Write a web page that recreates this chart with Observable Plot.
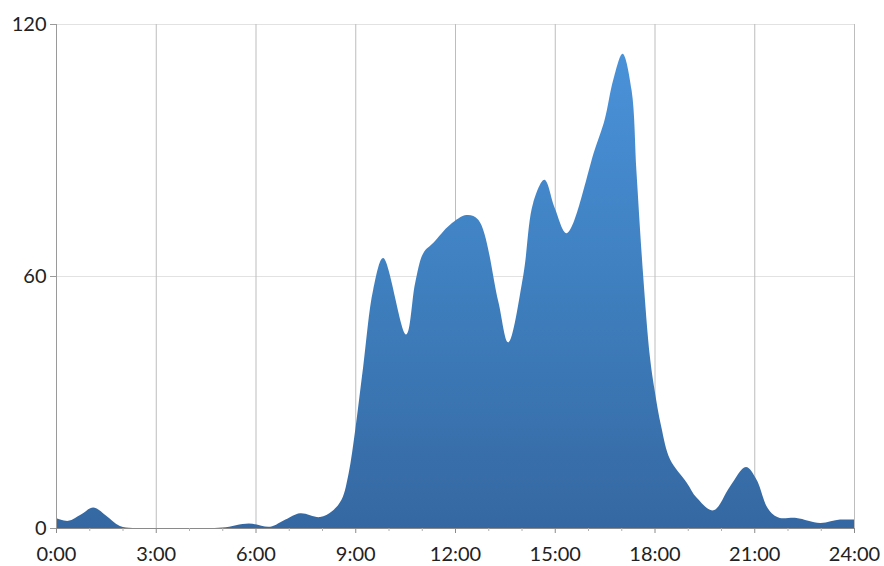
<!DOCTYPE html>
<html>
<head>
<meta charset="utf-8">
<script src="https://cdn.jsdelivr.net/npm/d3@7"></script>
<script src="https://cdn.jsdelivr.net/npm/@observablehq/plot@0.6"></script>
<style>
  body { margin: 0; background: #fff; }
  #chart svg { display: block; }
</style>
</head>
<body>
<div id="chart"></div>
<script>
// time of day (hours)
const hours = [
  0, 0.37, 0.75, 1.12, 1.5, 1.92, 2.3, 3, 4, 5, 5.8, 6.44, 6.9, 7.34, 7.94, 8.3, 8.59,
  8.8, 9.0, 9.24, 9.54, 9.84, 10.53, 10.8, 11.05, 11.35, 11.85, 12.35, 12.7,
  13.3, 13.6, 14.05, 14.35, 14.69, 15.0, 15.36, 16.2, 16.5, 16.76,
  17.04, 17.31, 17.46, 17.66, 17.86, 18.0, 18.2, 18.47, 18.97, 19.27, 19.77, 20.27,
  20.75, 21.07, 21.37, 21.57, 21.77, 22.27, 22.98, 23.58, 24
];
// count
const values = [
  2.4, 1.7, 3.2, 4.9, 3.0, 0.5, 0, 0, 0, 0.1, 1.1, 0.3, 2.0, 3.5, 2.6, 4.0, 6.8,
  13, 23.4, 38.5, 56.8, 64.3, 46.1, 58.3, 65.5, 67.9, 72.2, 74.5, 73.4,
  54, 44.2, 60, 77.4, 82.9, 76.2, 70.2, 90, 97.2, 106.7,
  112.9, 104.3, 84.5, 60, 40.9, 33, 24.2, 16.3, 10.8, 7.2, 4.2, 9.9,
  14.5, 11.5, 5.2, 3.2, 2.4, 2.4, 1.2, 2, 2
];
const xTicks = [0, 3, 6, 9, 12, 15, 18, 21, 24];
const xTickLabels = ["0:00", "3:00", "6:00", "9:00", "12:00", "15:00", "18:00", "21:00", "24:00"];
const xMinorTicks = [1, 2, 4, 5, 7, 8, 10, 11, 13, 14, 16, 17, 19, 20, 22, 23];
const yTicks = [0, 60, 120];

const data = hours.map((h, i) => ({ h, v: values[i] }));

const gradientMark = (index, scales) => {
  const ns = "http://www.w3.org/2000/svg";
  const defs = document.createElementNS(ns, "defs");
  const lg = document.createElementNS(ns, "linearGradient");
  lg.setAttribute("id", "areaGrad");
  lg.setAttribute("gradientUnits", "userSpaceOnUse");
  lg.setAttribute("x1", 0); lg.setAttribute("x2", 0);
  lg.setAttribute("y1", scales.y(120)); lg.setAttribute("y2", scales.y(0));
  [["0%", "#4b94dc"], ["50%", "#3f80c0"], ["100%", "#3568a2"]].forEach(([o, c]) => {
    const s = document.createElementNS(ns, "stop");
    s.setAttribute("offset", o); s.setAttribute("stop-color", c);
    lg.appendChild(s);
  });
  defs.appendChild(lg);
  return defs;
};

const chart = Plot.plot({
  width: 884,
  height: 566,
  marginLeft: 56,
  marginRight: 30,
  marginTop: 24,
  marginBottom: 38,
  style: { fontFamily: "Lato, 'Open Sans', sans-serif", fontSize: "20px", color: "#222", background: "#fff" },
  x: { domain: [0, 24] },
  y: { domain: [0, 120] },
  marks: [
    gradientMark,
    Plot.gridY(yTicks.slice(1), { stroke: "#e2e2e2", strokeOpacity: 1 }),
    Plot.gridX(xTicks.slice(1), { stroke: "#bdbdbd", strokeOpacity: 1 }),
    Plot.areaY(data, { x: "h", y: "v", curve: "catmull-rom", fill: "url(#areaGrad)", clip: true }),
    Plot.ruleX([0], { stroke: "#9a9a9a" }),
    Plot.ruleY([0], { stroke: "#8a8a8a" }),
    Plot.axisX(xTicks, {
      tickSize: 5, tickPadding: 13, stroke: "#8a8a8a",
      tickFormat: (d) => xTickLabels[xTicks.indexOf(d)], label: null, fontSize: 20
    }),
    Plot.axisX(xMinorTicks, { tickSize: 3, stroke: "#b0b0b0", text: null, label: null }),
    Plot.axisY(yTicks, { tickSize: 6, tickPadding: 4, stroke: "#9a9a9a", label: null, fontSize: 20 })
  ]
});

document.getElementById("chart").appendChild(chart);
</script>
</body>
</html>
